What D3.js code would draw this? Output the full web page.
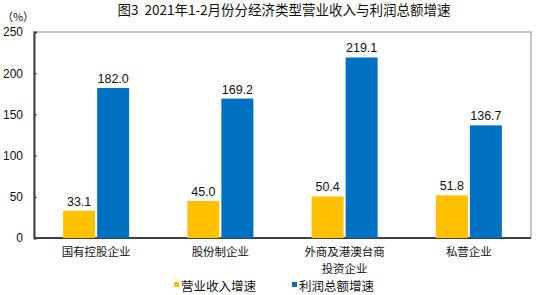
<!DOCTYPE html>
<html>
<head>
<meta charset="utf-8">
<script src="https://cdn.jsdelivr.net/npm/d3@7"></script>
<style>
  body { margin: 0; background: #fff; }
  svg text { font-family: "Liberation Sans", "Noto Sans CJK SC", sans-serif; fill: #111; }
  .cjk { font-family: "Noto Sans CJK SC", sans-serif; }
</style>
</head>
<body>
<svg id="chart" width="538" height="295"></svg>
<script>
// Chart data
const categories = [["国有控股企业"], ["股份制企业"], ["外商及港澳台商", "投资企业"], ["私营企业"]];
const revenueGrowth = [33.1, 45.0, 50.4, 51.8];
const profitGrowth = [182.0, 169.2, 219.1, 136.7];
const seriesNames = ["营业收入增速", "利润总额增速"];
const seriesColors = ["#FFC000", "#0070C0"];
const yTicks = [0, 50, 100, 150, 200, 250];

const svg = d3.select("#chart");
const m = { left: 34, right: 7, top: 32, bottom: 57 };
const W = 538, H = 295;
const iw = W - m.left - m.right, ih = H - m.top - m.bottom;

const x = d3.scaleBand().domain(d3.range(categories.length)).range([m.left, m.left + iw]);
const y = d3.scaleLinear().domain([0, 250]).range([m.top + ih, m.top]);
const barW = 32, gap = 2;

// title (keeps the double space after 图3)
svg.append("text").attr("class", "cjk")
  .attr("x", 284).attr("y", 15).attr("text-anchor", "middle")
  .style("font-size", "13.5px").style("white-space", "pre")
  .text("图3\u00a0\u00a02021年1-2月份分经济类型营业收入与利润总额增速");

// frame
svg.append("rect")
  .attr("x", m.left).attr("y", m.top).attr("width", iw).attr("height", ih)
  .attr("fill", "none").attr("stroke", "#8c8c8c").attr("stroke-width", 1);

// y axis
const yAxis = svg.append("g").attr("transform", `translate(${m.left},0)`)
  .call(d3.axisLeft(y).tickValues(yTicks).tickSize(-3).tickPadding(11).tickFormat(d3.format("d")));
yAxis.select(".domain").attr("stroke", "#404040").attr("stroke-width", 2);
yAxis.selectAll(".tick line").attr("stroke", "#404040");
yAxis.selectAll(".tick text").style("font-size", "12px").attr("fill", "#111");

svg.append("text").attr("class", "cjk")
  .attr("x", 18).attr("y", 21).attr("text-anchor", "middle")
  .style("font-size", "11px").text("（%）");

// bottom axis line
svg.append("line")
  .attr("x1", m.left).attr("x2", m.left + iw)
  .attr("y1", y(0)).attr("y2", y(0))
  .attr("stroke", "#404040").attr("stroke-width", 2);

// bars
const series = [revenueGrowth, profitGrowth];
series.forEach((vals, s) => {
  const g = svg.append("g");
  const bx = i => x(i) + x.bandwidth() / 2 + (s === 0 ? -barW - gap / 2 : gap / 2);
  g.selectAll("rect").data(vals).join("rect")
    .attr("x", (d, i) => bx(i))
    .attr("y", d => y(d))
    .attr("width", barW)
    .attr("height", d => y(0) - y(d))
    .attr("fill", seriesColors[s]);
  g.selectAll("text").data(vals).join("text")
    .attr("x", (d, i) => bx(i) + barW / 2)
    .attr("y", d => y(d) - 5)
    .attr("text-anchor", "middle")
    .style("font-size", "12.5px")
    .text(d => d.toFixed(1));
});

// category labels, one text per line
categories.forEach((lines, i) => {
  lines.forEach((ln, k) => {
    svg.append("text").attr("class", "cjk")
      .attr("text-anchor", "middle").style("font-size", "11.5px")
      .attr("x", x(i) + x.bandwidth() / 2)
      .attr("y", 256 + k * 16.5).text(ln);
  });
});

// legend
const legX = [174, 292];
seriesNames.forEach((name, s) => {
  svg.append("rect").attr("x", legX[s]).attr("y", 282).attr("width", 5).attr("height", 5)
    .attr("fill", seriesColors[s]);
  svg.append("text").attr("class", "cjk")
    .attr("x", legX[s] + 7).attr("y", 291)
    .style("font-size", "12.5px").text(name);
});
</script>
</body>
</html>
